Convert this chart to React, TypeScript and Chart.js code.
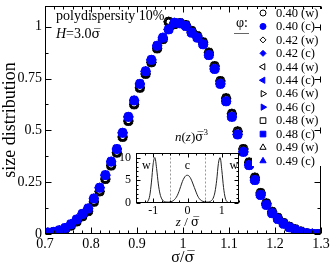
import React, { useEffect, useRef } from 'react';
import { Chart, registerables } from 'chart.js';

Chart.register(...registerables);

const SERIF = "'Liberation Serif', 'Times New Roman', Times, serif";
const MARK_SERIF = "'DejaVu Serif', 'Liberation Serif', serif";

// ---- main plot data: size distribution vs sigma / sigma-bar ----
const sigmaBins = [
  0.70625, 0.71875, 0.73125, 0.74375, 0.75625, 0.76875, 0.78125, 0.79375,
  0.80625, 0.81875, 0.83125, 0.84375, 0.85625, 0.86875, 0.88125, 0.89375,
  0.90625, 0.91875, 0.93125, 0.94375, 0.95625, 0.96875, 0.98125, 0.99375,
  1.00625, 1.01875, 1.03125, 1.04375, 1.05625, 1.06875, 1.08125, 1.09375,
  1.10625, 1.11875, 1.13125, 1.14375, 1.15625, 1.16875, 1.18125, 1.19375,
  1.20625, 1.21875, 1.23125, 1.24375, 1.25625, 1.26875, 1.28125, 1.29375,
];
// centre layer (c)
const distCenter = [
  0.007, 0.010, 0.018, 0.029, 0.047, 0.070, 0.097, 0.123,
  0.171, 0.223, 0.284, 0.349, 0.410, 0.488, 0.565, 0.644,
  0.724, 0.785, 0.840, 0.908, 0.947, 0.987, 1.019, 1.016,
  1.003, 0.971, 0.947, 0.915, 0.863, 0.796, 0.724, 0.640,
  0.565, 0.480, 0.396, 0.332, 0.260, 0.188, 0.140, 0.100,
  0.072, 0.049, 0.032, 0.021, 0.010, 0.003, 0.001, 0.000,
];
// wall layers (w)
const distWall = [
  0.005, 0.008, 0.014, 0.024, 0.040, 0.060, 0.085, 0.110,
  0.155, 0.205, 0.265, 0.330, 0.392, 0.468, 0.545, 0.625,
  0.705, 0.772, 0.828, 0.895, 0.940, 1.024, 1.012, 1.018,
  1.008, 0.980, 0.955, 0.925, 0.875, 0.810, 0.738, 0.655,
  0.580, 0.495, 0.410, 0.345, 0.272, 0.198, 0.148, 0.107,
  0.078, 0.053, 0.035, 0.023, 0.012, 0.004, 0.001, 0.000,
];
const phiValues = ['0.40', '0.42', '0.44', '0.46', '0.48', '0.49'];
const xTickValues = [0.7, 0.8, 0.9, 1.0, 1.1, 1.2, 1.3];
const yTickValues = [0, 0.25, 0.5, 0.75, 1];

// ---- inset data: density profile n(z) sigma^3 ----
const insetZ = [
  -1.5, -1.45, -1.4, -1.35, -1.3, -1.25, -1.2, -1.15, -1.1, -1.05,
  -1.0, -0.95, -0.9, -0.85, -0.8, -0.75, -0.7, -0.65, -0.6, -0.55,
  -0.5, -0.45, -0.4, -0.35, -0.3, -0.25, -0.2, -0.15, -0.1, -0.05,
  0.0, 0.05, 0.1, 0.15, 0.2, 0.25, 0.3, 0.35, 0.4, 0.45,
  0.5, 0.55, 0.6, 0.65, 0.7, 0.75, 0.8, 0.85, 0.9, 0.95,
  1.0, 1.05, 1.1, 1.15, 1.2, 1.25, 1.3, 1.35, 1.4, 1.45, 1.5,
];
const insetDensity = [
  0, 0, 0, 0, 0, 0.02, 0.1, 0.45, 1.6, 4.6,
  8.6, 10.0, 7.6, 4.2, 2.0, 0.9, 0.45, 0.25, 0.2, 0.2,
  0.25, 0.35, 0.6, 1.0, 1.6, 2.5, 3.6, 4.7, 5.5, 6.0,
  6.1, 5.9, 5.3, 4.4, 3.4, 2.4, 1.5, 0.9, 0.55, 0.35,
  0.25, 0.2, 0.2, 0.3, 0.55, 1.1, 2.4, 5.0, 8.7, 10.0,
  7.2, 3.4, 1.1, 0.3, 0.06, 0.01, 0, 0, 0, 0, 0,
];
const insetXTicks = [-1, 0, 1];
const insetYTicks = [0, 5, 10];
const insetBoundaries = [-0.5, 0.5];

// ---- styles ----
const markerStyles = ['circle', 'rectRot', 'triangle', 'triangle', 'rect', 'triangle'];
const markerRotations = [0, 0, -90, 90, 0, 0];
const BLUE = '#0000ff';

const fontStr = (size: number, italic = false, family = SERIF) => `${italic ? 'italic ' : ''}${size}px ${family}`;

type Run = { t: string; size: number; italic?: boolean; dy?: number; family?: string };
function drawRuns(ctx: CanvasRenderingContext2D, runs: Run[], x: number, y: number, align: 'left' | 'center') {
  let total = 0;
  for (const r of runs) {
    ctx.font = fontStr(r.size, r.italic, r.family);
    total += ctx.measureText(r.t).width;
  }
  let cx = align === 'center' ? x - total / 2 : x;
  ctx.textAlign = 'left';
  for (const r of runs) {
    ctx.font = fontStr(r.size, r.italic, r.family);
    ctx.fillText(r.t, cx, y + (r.dy || 0));
    cx += ctx.measureText(r.t).width;
  }
}

function drawMarker(ctx: CanvasRenderingContext2D, style: string, rot: number, x: number, y: number, r: number, fill: string | null, stroke: string) {
  ctx.beginPath();
  if (style === 'circle') {
    ctx.arc(x, y, r, 0, Math.PI * 2);
  } else if (style === 'rectRot') {
    ctx.moveTo(x, y - r); ctx.lineTo(x + r, y); ctx.lineTo(x, y + r); ctx.lineTo(x - r, y); ctx.closePath();
  } else if (style === 'rect') {
    const s = r * Math.SQRT1_2;
    ctx.rect(x - s, y - s, 2 * s, 2 * s);
  } else {
    let a = (rot * Math.PI) / 180;
    for (let k = 0; k < 3; k++) {
      const px = x + Math.sin(a) * r, py = y - Math.cos(a) * r;
      if (k === 0) ctx.moveTo(px, py); else ctx.lineTo(px, py);
      a += (2 * Math.PI) / 3;
    }
    ctx.closePath();
  }
  if (fill) { ctx.fillStyle = fill; ctx.fill(); }
  ctx.strokeStyle = stroke;
  ctx.lineWidth = 1;
  ctx.stroke();
}

const mainDecor = {
  id: 'mainDecor',
  afterDatasetsDraw(chart: any) {
    const { ctx, chartArea: a, scales } = chart;
    const xs = scales.x, ys = scales.y;
    ctx.save();
    ctx.strokeStyle = '#000';
    ctx.lineWidth = 1;
    const L = Math.round(a.left) + 0.5, R = Math.round(a.right) - 0.5;
    const T = Math.round(a.top) + 0.5, B = Math.round(a.bottom) - 0.5;
    ctx.strokeRect(L, T, R - L, B - T);
    ctx.beginPath();
    for (let i = 0; i <= 30; i++) {
      const v = xTickValues[0] + i * 0.02;
      const len = i % 5 === 0 ? 6 : 3;
      const px = Math.round(xs.getPixelForValue(v)) + 0.5;
      ctx.moveTo(px, B); ctx.lineTo(px, B - len);
      ctx.moveTo(px, T); ctx.lineTo(px, T + len);
    }
    for (let i = 0; i <= 8; i++) {
      const v = i * 0.125;
      const len = i % 2 === 0 ? 6 : 3;
      const py = Math.round(ys.getPixelForValue(v)) + 0.5;
      ctx.moveTo(L, py); ctx.lineTo(L + len, py);
      ctx.moveTo(R, py); ctx.lineTo(R - len, py);
    }
    ctx.stroke();

    // legend box
    const boxTop = 9, boxBottom = 166;
    ctx.fillStyle = '#fff';
    ctx.fillRect(252, boxTop, 80, boxBottom - boxTop);
    ctx.beginPath();
    for (const v of yTickValues) {
      const py = Math.round(ys.getPixelForValue(v)) + 0.5;
      if (py > boxTop && py < boxBottom) {
        ctx.moveTo(R, py); ctx.lineTo(R - 6, py);
        ctx.moveTo(R, py - 3); ctx.lineTo(R, py + 3);
      }
    }
    ctx.stroke();

    ctx.fillStyle = '#000';
    ctx.textBaseline = 'middle';
    ctx.font = fontStr(14);
    ctx.textAlign = 'left';
    ctx.fillText('\u03C6:', 236, 23);
    ctx.strokeStyle = '#666';
    ctx.beginPath(); ctx.moveTo(234, 33.5); ctx.lineTo(249, 33.5); ctx.stroke();

    let row = 0;
    phiValues.forEach((phi, i) => {
      ['w', 'c'].forEach((kind) => {
        const y = 13 + row * 13.45;
        const st = markerStyles[i];
        const r = st === 'triangle' ? 3.6 : st === 'rect' ? 4 : 3;
        if (kind === 'w') drawMarker(ctx, st, markerRotations[i], 263, y, r, null, '#000');
        else drawMarker(ctx, st, markerRotations[i], 263, y, r, BLUE, BLUE);
        ctx.fillStyle = '#000';
        ctx.font = fontStr(12.5);
        ctx.textAlign = 'left';
        ctx.textBaseline = 'middle';
        ctx.fillText(`${phi} (${kind})`, 276, y + 0.5);
        row++;
      });
    });

    // annotations
    ctx.textBaseline = 'alphabetic';
    ctx.fillStyle = '#000';
    drawRuns(ctx, [{ t: 'polydispersity 10%', size: 14 }], 56, 19.5, 'left');
    drawRuns(ctx, [
      { t: 'H', size: 14, italic: true },
      { t: '=3.0', size: 14 },
      { t: '\u03C3\u0305', size: 13, family: MARK_SERIF },
    ], 56, 38, 'left');

    // x-axis title
    drawRuns(ctx, [
      { t: '\u03C3/', size: 16 },
      { t: '\u03C3\u0305', size: 15, family: MARK_SERIF },
    ], (a.left + a.right) / 2, 262, 'center');
    ctx.restore();
  },
};

const insetDecor = {
  id: 'insetDecor',
  afterDatasetsDraw(chart: any) {
    const { ctx, chartArea: a, scales } = chart;
    const xs = scales.x, ys = scales.y;
    ctx.save();
    const L = Math.round(a.left) + 0.5, R = Math.round(a.right) - 0.5;
    const T = Math.round(a.top) + 0.5, B = Math.round(a.bottom) - 0.5;
    // boundaries
    ctx.strokeStyle = '#999';
    ctx.setLineDash([2, 2]);
    ctx.beginPath();
    for (const z of insetBoundaries) {
      const px = Math.round(xs.getPixelForValue(z)) + 0.5;
      ctx.moveTo(px, T); ctx.lineTo(px, B);
    }
    ctx.stroke();
    ctx.setLineDash([]);
    ctx.strokeStyle = '#000';
    ctx.lineWidth = 1;
    ctx.strokeRect(L, T, R - L, B - T);
    ctx.beginPath();
    for (let i = 0; i <= 12; i++) {
      const v = -1.5 + i * 0.25;
      const len = i % 4 === 2 ? 4 : 2;
      const px = Math.round(xs.getPixelForValue(v)) + 0.5;
      ctx.moveTo(px, B); ctx.lineTo(px, B - len);
      ctx.moveTo(px, T); ctx.lineTo(px, T + len);
    }
    for (let i = 0; i <= 11; i++) {
      const len = i % 5 === 0 ? 4 : 2;
      const py = Math.round(ys.getPixelForValue(i)) + 0.5;
      ctx.moveTo(L, py); ctx.lineTo(L + len, py);
      ctx.moveTo(R, py); ctx.lineTo(R - len, py);
    }
    ctx.stroke();

    ctx.fillStyle = '#000';
    ctx.textBaseline = 'middle';
    ctx.textAlign = 'center';
    ctx.font = fontStr(12);
    ctx.fillText('w', xs.getPixelForValue(-1.2), ys.getPixelForValue(8.2));
    ctx.fillText('c', xs.getPixelForValue(0), ys.getPixelForValue(8.2));
    ctx.fillText('w', xs.getPixelForValue(1.35), ys.getPixelForValue(8.2));

    ctx.textBaseline = 'alphabetic';
    const cx = (a.left + a.right) / 2;
    drawRuns(ctx, [
      { t: 'n', size: 13, italic: true },
      { t: '(', size: 13 },
      { t: 'z', size: 13, italic: true },
      { t: ')', size: 13 },
      { t: '\u03C3\u0305', size: 12, family: MARK_SERIF },
      { t: '3', size: 9, dy: -6 },
    ], cx + 4, 15, 'center');
    drawRuns(ctx, [
      { t: 'z', size: 13, italic: true },
      { t: ' / ', size: 13 },
      { t: '\u03C3\u0305', size: 12, family: MARK_SERIF },
    ], cx, 100, 'center');
    ctx.restore();
  },
};

function zeroPad(s: any) {
  s.paddingLeft = 0; s.paddingRight = 0; s.paddingTop = 0; s.paddingBottom = 0;
}

export default function App() {
  const mainRef = useRef<HTMLCanvasElement>(null);
  const insetRef = useRef<HTMLCanvasElement>(null);

  useEffect(() => {
    const datasets: any[] = [];
    const radiusFor = (st: string) => (st === 'triangle' || st === 'rect' ? 5 : 4.5);
    phiValues.forEach((phi, i) => {
      datasets.push({
        label: `${phi} (c)`,
        data: sigmaBins.map((s, k) => ({ x: s, y: distCenter[k] })),
        pointStyle: markerStyles[i],
        rotation: markerRotations[i],
        pointRadius: radiusFor(markerStyles[i]),
        backgroundColor: BLUE,
        borderColor: BLUE,
        borderWidth: 1,
        showLine: false,
      });
    });
    phiValues.forEach((phi, i) => {
      datasets.push({
        label: `${phi} (w)`,
        data: sigmaBins.map((s, k) => ({ x: s, y: distWall[k] })),
        pointStyle: markerStyles[i],
        rotation: markerRotations[i],
        pointRadius: radiusFor(markerStyles[i]),
        backgroundColor: 'rgba(0,0,0,0)',
        borderColor: '#000',
        borderWidth: 1,
        showLine: false,
      });
    });

    const main = new Chart(mainRef.current as HTMLCanvasElement, {
      type: 'scatter',
      data: { datasets },
      options: {
        animation: false,
        responsive: false,
        devicePixelRatio: 1,
        layout: { padding: { left: 0, right: 11, top: 2, bottom: 0 } },
        plugins: { legend: { display: false }, tooltip: { enabled: false } },
        scales: {
          x: {
            type: 'linear',
            min: 0.7,
            max: 1.3,
            grid: { display: false, drawTicks: false },
            border: { display: false },
            afterBuildTicks: (s: any) => { s.ticks = xTickValues.map((v) => ({ value: v })); },
            ticks: {
              font: { family: SERIF, size: 14, lineHeight: 1 },
              color: '#000',
              padding: 3,
              maxRotation: 0,
              autoSkip: false,
              callback: (v: any) => String(v),
            },
            afterFit: (s: any) => { s.height = 30; zeroPad(s); },
          },
          y: {
            type: 'linear',
            min: 0,
            max: 1.1,
            grid: { display: false, drawTicks: false },
            border: { display: false },
            afterBuildTicks: (s: any) => { s.ticks = yTickValues.map((v) => ({ value: v })); },
            ticks: {
              font: { family: SERIF, size: 14, lineHeight: 1 },
              color: '#000',
              padding: 3,
              autoSkip: false,
              callback: (v: any) => String(v),
            },
            title: {
              display: true,
              text: 'size distribution',
              color: '#000',
              font: { family: SERIF, size: 18, lineHeight: 1 },
              padding: { top: 1, bottom: 0 },
            },
            afterFit: (s: any) => { s.width = 45; zeroPad(s); },
          },
        },
      } as any,
      plugins: [mainDecor],
    });

    const inset = new Chart(insetRef.current as HTMLCanvasElement, {
      type: 'line',
      data: {
        datasets: [{
          data: insetZ.map((z, k) => ({ x: z, y: insetDensity[k] })),
          borderColor: '#222',
          borderWidth: 1,
          pointRadius: 0,
          cubicInterpolationMode: 'monotone',
          fill: false,
        }],
      },
      options: {
        animation: false,
        responsive: false,
        devicePixelRatio: 1,
        layout: { padding: { left: 0, right: 6, top: 27, bottom: 0 } },
        plugins: { legend: { display: false }, tooltip: { enabled: false } },
        scales: {
          x: {
            type: 'linear',
            min: -1.5,
            max: 1.5,
            grid: { display: false, drawTicks: false },
            border: { display: false },
            afterBuildTicks: (s: any) => { s.ticks = insetXTicks.map((v) => ({ value: v })); },
            ticks: {
              font: { family: SERIF, size: 12, lineHeight: 1 },
              color: '#000',
              padding: 2,
              maxRotation: 0,
              autoSkip: false,
              callback: (v: any) => String(v),
            },
            afterFit: (s: any) => { s.height = 29; zeroPad(s); },
          },
          y: {
            type: 'linear',
            min: 0,
            max: 11,
            grid: { display: false, drawTicks: false },
            border: { display: false },
            afterBuildTicks: (s: any) => { s.ticks = insetYTicks.map((v) => ({ value: v })); },
            ticks: {
              font: { family: SERIF, size: 12, lineHeight: 1 },
              color: '#000',
              padding: 5,
              autoSkip: false,
              callback: (v: any) => String(v),
            },
            afterFit: (s: any) => { s.width = 31; zeroPad(s); },
          },
        },
      } as any,
      plugins: [insetDecor],
    });

    return () => { main.destroy(); inset.destroy(); };
  }, []);

  return (
    <div style={{ position: 'absolute', left: 0, top: 0, width: 332, height: 264, background: '#fff' }}>
      <canvas ref={mainRef} width={332} height={264} style={{ position: 'absolute', left: 0, top: 0, width: 332, height: 264 }} />
      <canvas ref={insetRef} width={140} height={106} style={{ position: 'absolute', left: 105, top: 126, width: 140, height: 106 }} />
    </div>
  );
}
